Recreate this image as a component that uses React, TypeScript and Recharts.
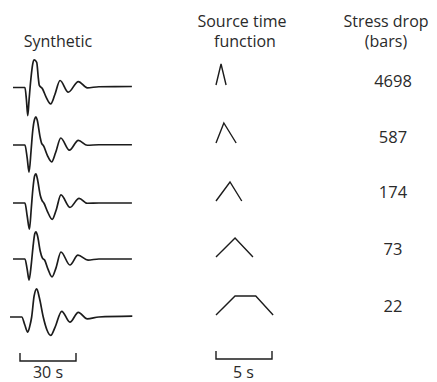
import { ComposedChart, Line, XAxis, YAxis } from 'recharts';

// stress drop values (bars), one per row
const stressDrop = [4698, 587, 174, 73, 22];

// synthetic seismograms: [time (s), amplitude (row 1 peak ~ 1)]
const synthetic1 = [
  [0, -0.02], [6.4, -0.02], [7.2, -0.5], [7.9, -1.1], [8.6, -0.5], [9.5, 0.25], [10.6, 0.9],
  [11.4, 1.04], [12.7, 0.95], [13.6, 0.32], [14.1, 0.06], [15.7, -0.06], [17.8, -0.4],
  [20.2, -0.65], [22.4, -0.3], [25.2, 0.25], [29.6, -0.2], [35.0, 0.21], [39.8, -0.03],
  [46, 0.01], [63.7, 0.02],
];
const synthetic2 = [
  [0, 0], [6.4, 0], [7.6, -0.5], [8.6, -1.04], [9.7, -0.2], [10.5, 0.5], [11.6, 1.0],
  [12.3, 1.08], [13.0, 0.95], [14.5, 0.31], [15.4, 0.05], [16.2, -0.01], [18.4, -0.4],
  [20.7, -0.65], [22.8, -0.3], [25.6, 0.27], [30.2, -0.2], [35.0, 0.18], [39.8, -0.01],
  [46, 0.01], [63.7, 0.01],
];
const synthetic3 = [
  [0, 0], [6.4, 0], [7.6, -0.5], [8.8, -1.01], [9.8, -0.2], [10.6, 0.5], [11.6, 1.05],
  [12.3, 1.12], [13.0, 0.95], [14.6, 0.3], [15.4, 0.12], [16.6, -0.01], [18.6, -0.35],
  [21.0, -0.63], [23.0, -0.3], [25.7, 0.31], [30.5, -0.17], [35.4, 0.18], [39.8, -0.01],
  [46, 0], [63.7, 0],
];
const synthetic4 = [
  [0, 0], [6.4, 0], [7.6, -0.4], [8.6, -0.81], [9.8, -0.2], [10.7, 0.45], [11.7, 0.98],
  [12.3, 1.04], [13.1, 0.9], [14.6, 0.3], [15.7, 0.04], [17.0, -0.05], [18.8, -0.4],
  [20.9, -0.69], [23.0, -0.35], [25.7, 0.27], [30.5, -0.23], [34.8, 0.15], [40.2, -0.04],
  [46, 0], [63.7, 0],
];
const synthetic5 = [
  [-1.6, 0], [4.7, 0], [6.3, -0.3], [7.9, -0.58], [9.0, -0.35], [10.0, 0], [11.3, 0.8],
  [12.7, 1.08], [14.1, 0.75], [16.2, 0], [18.2, -0.5], [20.2, -0.71], [22.5, -0.4],
  [26.1, 0.22], [30.5, -0.2], [35.0, 0.18], [39.8, -0.07], [46, 0], [63.9, 0.03],
];

// source time functions: [time (s), normalised moment rate]
const stf1 = [[0, 0], [0.45, 1.05], [0.9, 0]];
const stf2 = [[0, 0], [0.7, 1.0], [1.8, 0]];
const stf3 = [[0, 0], [1.25, 0.95], [2.3, 0]];
const stf4 = [[0, 0], [1.7, 0.95], [3.3, 0]];
const stf5 = [[0, 0], [1.7, 0.95], [3.55, 0.95], [5.1, 0]];

const synthetics = [synthetic1, synthetic2, synthetic3, synthetic4, synthetic5];
const stfs = [stf1, stf2, stf3, stf4, stf5];

// scale bars (s)
const waveBar = { start: 3.75, length: 30, label: '30 s' };
const stfBar = { start: 0, length: 5, label: '5 s' };

// layout
const W = 437;
const H = 382;
const WAVE_PX_PER_SEC = 56 / 30;
const STF_PX_PER_SEC = 56 / 5;
const WAVE_ORIGIN = 13;
const STF_ORIGIN = 216;
const AMP_PX = 26;
const STF_AMP_PX = 20;
const ROW_H = 80;
const ROW_BASE = [86.5, 145, 203, 259, 316.5];
const STF_LIFT = 2;
const INK = '#1c1c1c';
const FONT = '"Open Sans", sans-serif';

const xDomain = (origin: number, pxPer: number) => [-origin / pxPer, (W - origin) / pxPer];
const yDomain = (zero: number, height: number, pxPer: number) => [-(height - zero) / pxPer, zero / pxPer];

const toRows = (pts: number[][]) => pts.map(([t, a]) => ({ t, a }));

function Axes({ height, waveZero, stfZero, unit, stfUnit }: any) {
  return [
    <XAxis key="xw" xAxisId="wave" type="number" dataKey="t" hide allowDataOverflow
      domain={xDomain(WAVE_ORIGIN, WAVE_PX_PER_SEC)} />,
    <XAxis key="xs" xAxisId="stf" type="number" dataKey="t" hide allowDataOverflow
      domain={xDomain(STF_ORIGIN, STF_PX_PER_SEC)} />,
    <YAxis key="yw" yAxisId="wave" type="number" hide allowDataOverflow
      domain={yDomain(waveZero, height, unit)} />,
    <YAxis key="ys" yAxisId="stf" type="number" hide allowDataOverflow
      domain={yDomain(stfZero, height, stfUnit)} />,
  ];
}

function Row({ i }: { i: number }) {
  const top = ROW_BASE[i] - ROW_H / 2;
  return (
    <div style={{ position: 'absolute', left: 0, top, width: W, height: ROW_H }}>
      <ComposedChart width={W} height={ROW_H} margin={{ top: 0, right: 0, bottom: 0, left: 0 }}>
        {Axes({ height: ROW_H, waveZero: ROW_H / 2, stfZero: ROW_H / 2 - STF_LIFT, unit: AMP_PX, stfUnit: STF_AMP_PX })}
        <Line data={toRows(synthetics[i])} dataKey="a" xAxisId="wave" yAxisId="wave"
          type="monotone" stroke={INK} strokeWidth={1.7} dot={false} activeDot={false}
          isAnimationActive={false} />
        <Line data={toRows(stfs[i])} dataKey="a" xAxisId="stf" yAxisId="stf"
          type="linear" stroke={INK} strokeWidth={1.4} dot={false} activeDot={false}
          isAnimationActive={false} />
      </ComposedChart>
    </div>
  );
}

const bracket = (start: number, length: number) => [
  { t: start, a: 1 }, { t: start, a: 0 }, { t: start + length, a: 0 }, { t: start + length, a: 1 },
];

function ScaleBars() {
  const top = 340;
  const h = 30;
  return (
    <div style={{ position: 'absolute', left: 0, top, width: W, height: h }}>
      <ComposedChart width={W} height={h} margin={{ top: 0, right: 0, bottom: 0, left: 0 }}>
        {Axes({ height: h, waveZero: 361 - top, stfZero: 359 - top, unit: 8, stfUnit: 8 })}
        <Line data={bracket(waveBar.start, waveBar.length)} dataKey="a" xAxisId="wave" yAxisId="wave"
          type="linear" stroke={INK} strokeWidth={1.4} dot={false} activeDot={false}
          isAnimationActive={false} />
        <Line data={bracket(stfBar.start, stfBar.length)} dataKey="a" xAxisId="stf" yAxisId="stf"
          type="linear" stroke={INK} strokeWidth={1.4} dot={false} activeDot={false}
          isAnimationActive={false} />
      </ComposedChart>
    </div>
  );
}

const NUM_BASE = [87, 143, 198, 255, 312];

function Labels() {
  const txt = { fontFamily: FONT, fontSize: 16, fill: '#2a2a2a', textAnchor: 'middle' as const };
  return (
    <svg width={W} height={H} style={{ position: 'absolute', left: 0, top: 0 }}>
      <text {...txt} x={58} y={47}>Synthetic</text>
      <text {...txt} x={242} y={27}>Source time</text>
      <text {...txt} x={245} y={47}>function</text>
      <text {...txt} x={386} y={27}>Stress drop</text>
      <text {...txt} x={386} y={47}>(bars)</text>
      {stressDrop.map((v, i) => (
        <text key={v} {...txt} fontSize={16.5} x={393} y={NUM_BASE[i]}>{v}</text>
      ))}
      <text {...txt} x={48} y={378}>{waveBar.label}</text>
      <text {...txt} x={243.5} y={378}>{stfBar.label}</text>
    </svg>
  );
}

export default function App() {
  return (
    <div style={{ position: 'absolute', left: 0, top: 0, width: W, height: H, background: '#fff', overflow: 'hidden' }}>
      <Labels />
      {stressDrop.map((_, i) => <Row key={i} i={i} />)}
      <ScaleBars />
    </div>
  );
}
